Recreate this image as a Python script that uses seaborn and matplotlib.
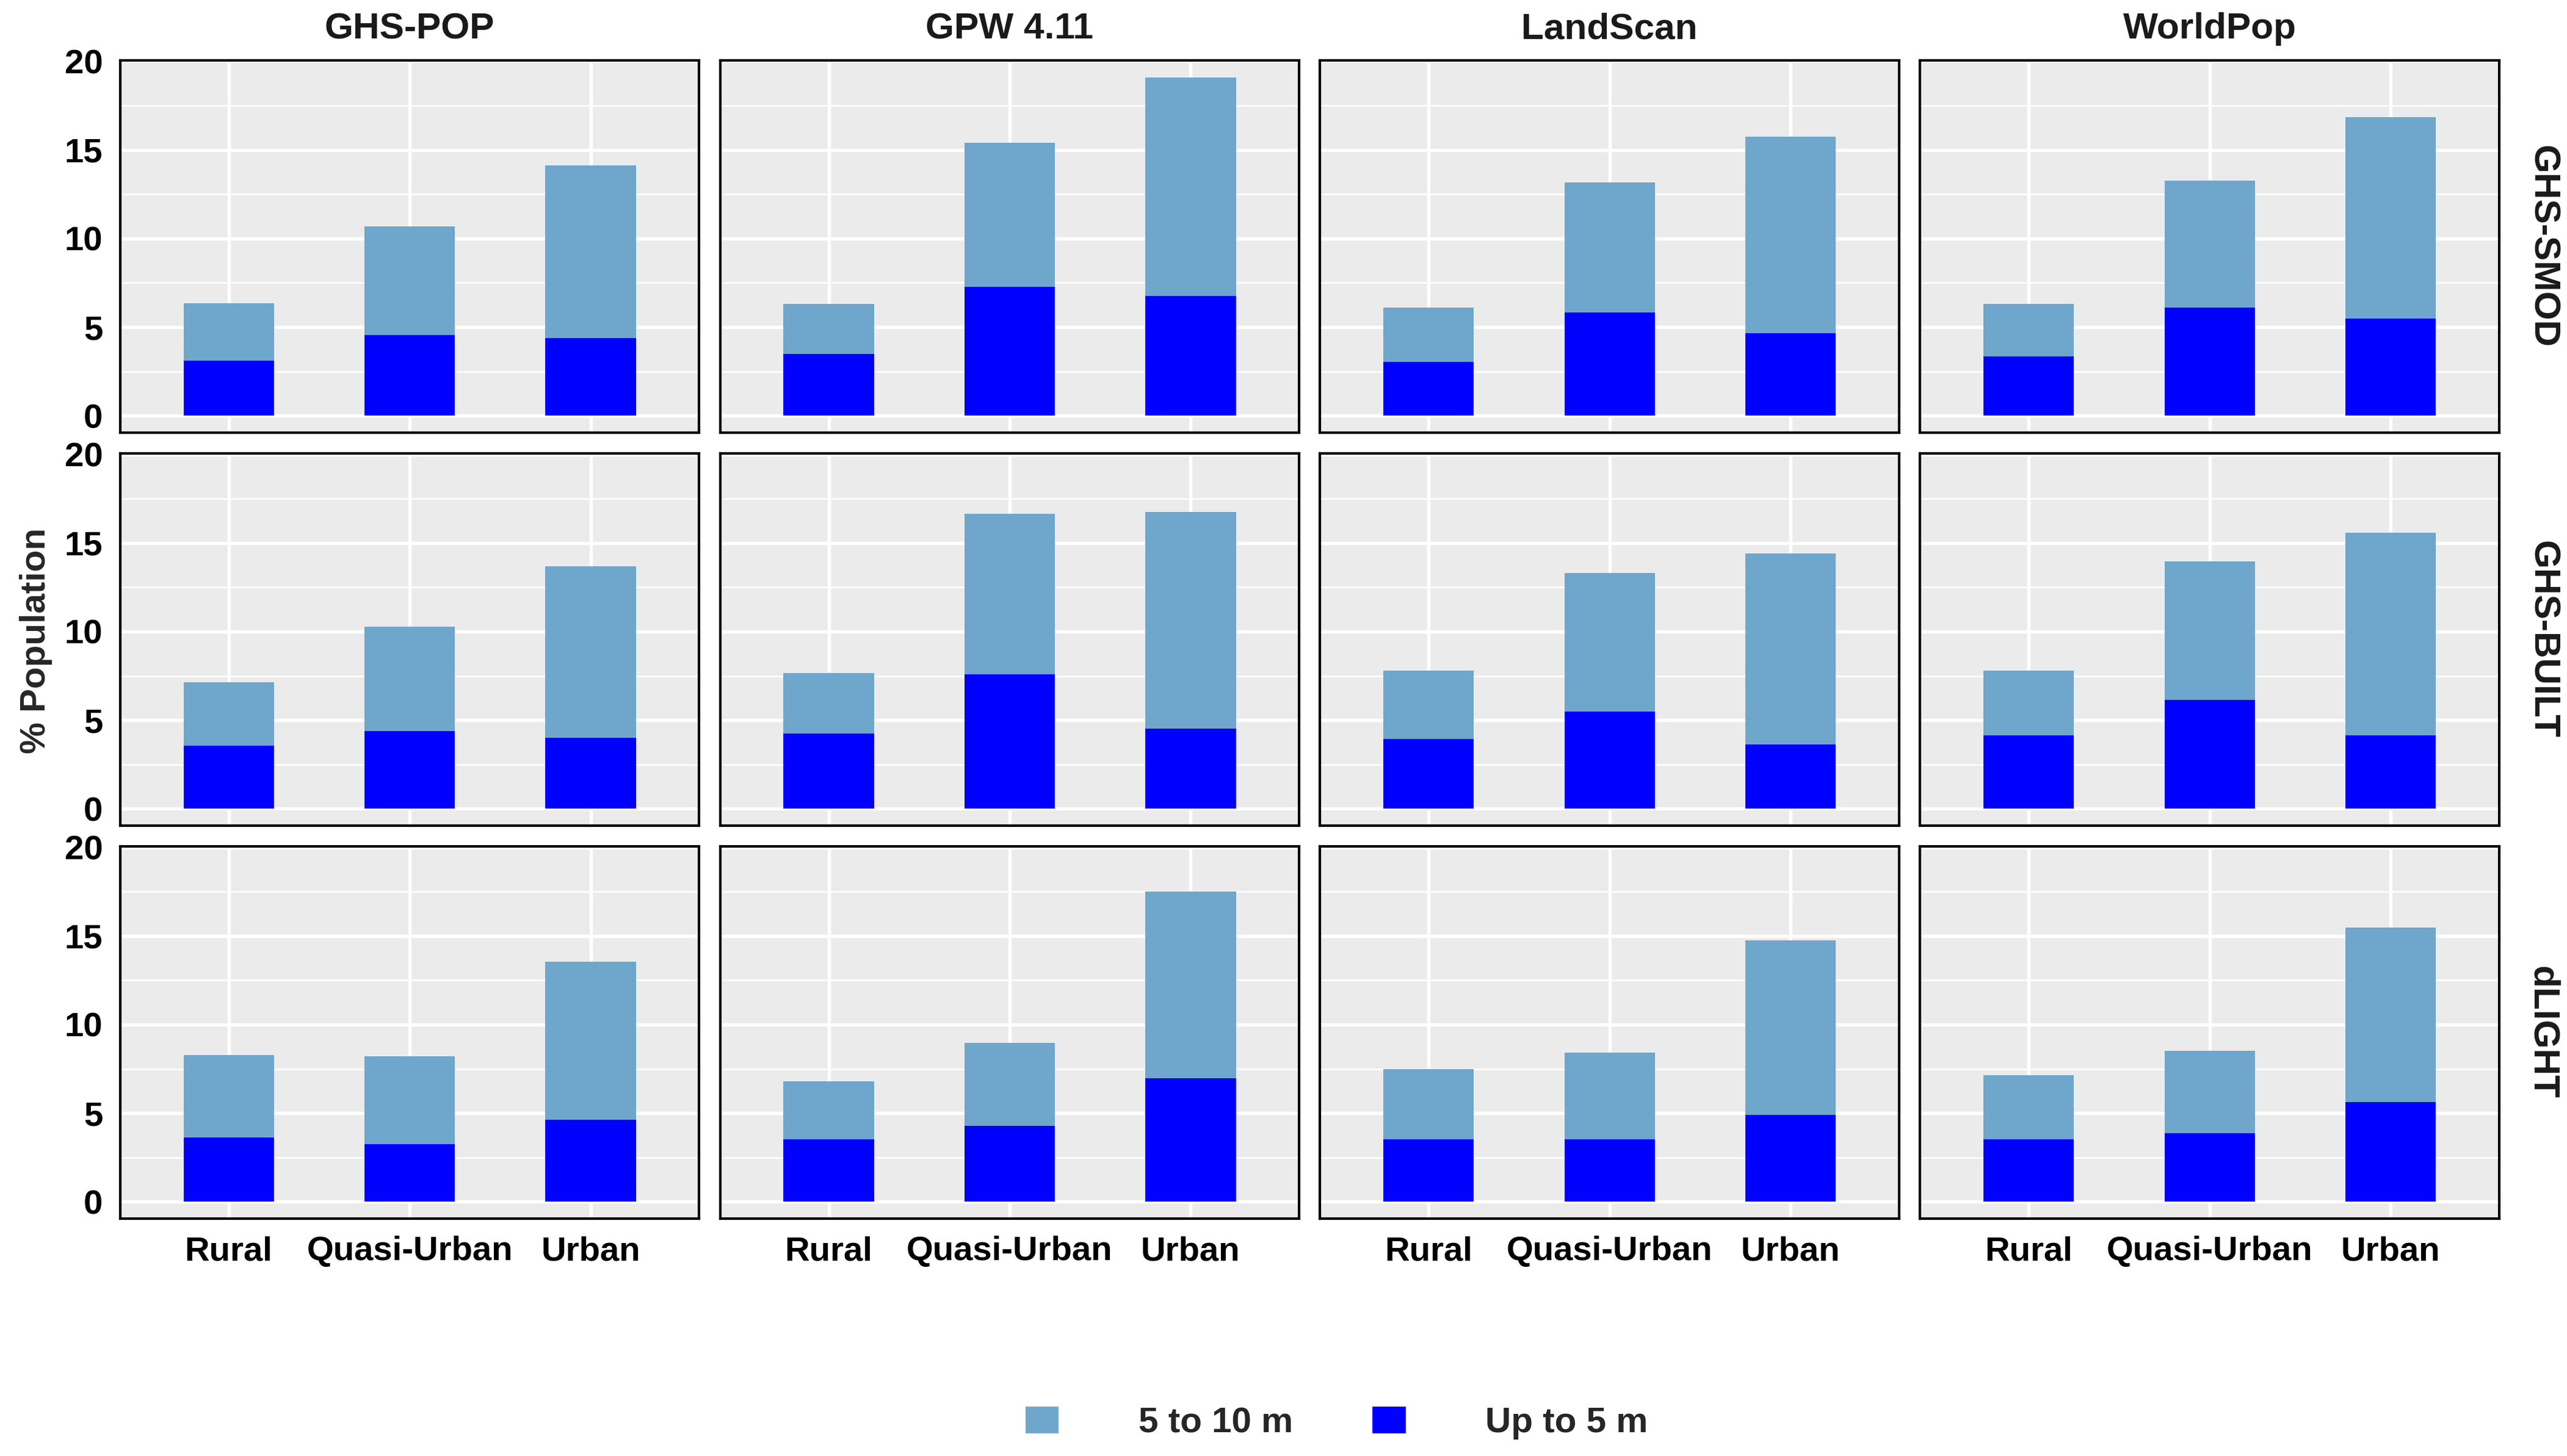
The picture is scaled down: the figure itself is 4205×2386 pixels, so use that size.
import pandas as pd
import matplotlib.pyplot as plt
import seaborn as sns
from matplotlib.patches import Patch
from matplotlib.ticker import MultipleLocator

# categories
zones = ['Rural', 'Quasi-Urban', 'Urban']
pop_datasets = ['GHS-POP', 'GPW 4.11', 'LandScan', 'WorldPop']
urban_defs = ['GHS-SMOD', 'GHS-BUILT', 'dLIGHT']

# % population living up to 5 m (one list of [Rural, Quasi-Urban, Urban] per pop dataset)
smod_up_to_5 = [[3.09, 4.56, 4.38], [3.49, 7.29, 6.76], [3.04, 5.84, 4.64], [3.34, 6.09, 5.48]]
built_up_to_5 = [[3.55, 4.38, 4.01], [4.23, 7.60, 4.53], [3.92, 5.48, 3.61], [4.13, 6.13, 4.13]]
dlight_up_to_5 = [[3.63, 3.26, 4.62], [3.54, 4.28, 6.98], [3.51, 3.54, 4.89], [3.54, 3.88, 5.63]]

# % population living up to 10 m (top of the stacked bar)
smod_up_to_10 = [[6.33, 10.69, 14.13], [6.30, 15.39, 19.09], [6.12, 13.16, 15.76], [6.32, 13.27, 16.86]]
built_up_to_10 = [[7.14, 10.26, 13.69], [7.66, 16.63, 16.75], [7.78, 13.32, 14.40], [7.81, 13.97, 15.56]]
dlight_up_to_10 = [[8.28, 8.22, 13.54], [6.80, 8.95, 17.51], [7.48, 8.40, 14.74], [7.14, 8.52, 15.48]]

up5 = {'GHS-SMOD': smod_up_to_5, 'GHS-BUILT': built_up_to_5, 'dLIGHT': dlight_up_to_5}
up10 = {'GHS-SMOD': smod_up_to_10, 'GHS-BUILT': built_up_to_10, 'dLIGHT': dlight_up_to_10}

rows = []
for u in urban_defs:
    for i, p in enumerate(pop_datasets):
        for j, z in enumerate(zones):
            rows.append({'urban': u, 'pop': p, 'zone': z,
                         'up_to_5': up5[u][i][j], 'up_to_10': up10[u][i][j]})
df = pd.DataFrame(rows)

light_blue = '#6fa6cb'
blue = '#0000ff'

sns.set_theme(style='darkgrid', rc={'axes.facecolor': '#ebebeb', 'grid.color': 'white'})
plt.rcParams['font.family'] = ['Liberation Sans', 'DejaVu Sans']
plt.rcParams['font.weight'] = 'bold'

fig, axes = plt.subplots(3, 4, figsize=(4205 / 300, 2386 / 300), dpi=300, sharex=True, sharey=True)
fig.subplots_adjust(left=0.0468, right=0.9736, top=0.9585, bottom=0.163, wspace=0.036, hspace=0.056)

for r, u in enumerate(urban_defs):
    for c, p in enumerate(pop_datasets):
        ax = axes[r, c]
        sub = df[(df['urban'] == u) & (df['pop'] == p)]
        sns.barplot(data=sub, x='zone', y='up_to_10', order=zones, color=light_blue,
                    saturation=1, width=0.5, errorbar=None, linewidth=0, ax=ax)
        sns.barplot(data=sub, x='zone', y='up_to_5', order=zones, color=blue,
                    saturation=1, width=0.5, errorbar=None, linewidth=0, ax=ax)
        ax.set_xlim(-0.6, 2.6)
        ax.set_ylim(-0.955, 20.05)
        ax.yaxis.set_major_locator(MultipleLocator(5))
        ax.yaxis.set_minor_locator(MultipleLocator(2.5))
        ax.set_axisbelow(True)
        ax.grid(True, which='major', axis='both', color='white', linewidth=1.3)
        ax.grid(True, which='minor', axis='y', color='white', linewidth=0.6)
        ax.set_xlabel('')
        ax.set_ylabel('')
        for s in ax.spines.values():
            s.set_visible(True)
            s.set_color('black')
            s.set_linewidth(1.0)
        ax.tick_params(which='minor', length=0)
        ax.tick_params(axis='both', which='major', length=4.3, width=1.0, color='#333333',
                       labelsize=13.5, labelcolor='black', pad=2.5)
        if c > 0:
            ax.tick_params(axis='y', length=0)
        if r < 2:
            ax.tick_params(axis='x', length=0)
        for lab in ax.get_xticklabels() + ax.get_yticklabels():
            lab.set_fontweight('bold')
        if r == 0:
            ax.text(0.5, 1.084, p, transform=ax.transAxes, ha='center', va='center',
                    fontsize=14.5, fontweight='bold', color='#1a1a1a')
        if c == 3:
            ax.text(1.074, 0.5, u, transform=ax.transAxes, ha='center', va='center',
                    rotation=270, fontsize=14.5, fontweight='bold', color='#1a1a1a')

fig.text(59 / 4205, 1 - 1050 / 2386, '% Population', rotation=90, ha='center', va='center',
         fontsize=14, fontweight='bold')

handles = [Patch(facecolor=light_blue, label='5 to 10 m'), Patch(facecolor=blue, label='Up to 5 m')]
leg = fig.legend(handles=handles, loc='center', bbox_to_anchor=(0.5205, 0.023), ncol=2,
                 frameon=False, handlelength=1.0, handleheight=0.9, handletextpad=2.2,
                 columnspacing=2.2, prop={'size': 14, 'weight': 'bold'})

fig.savefig('out.png', dpi=300)
